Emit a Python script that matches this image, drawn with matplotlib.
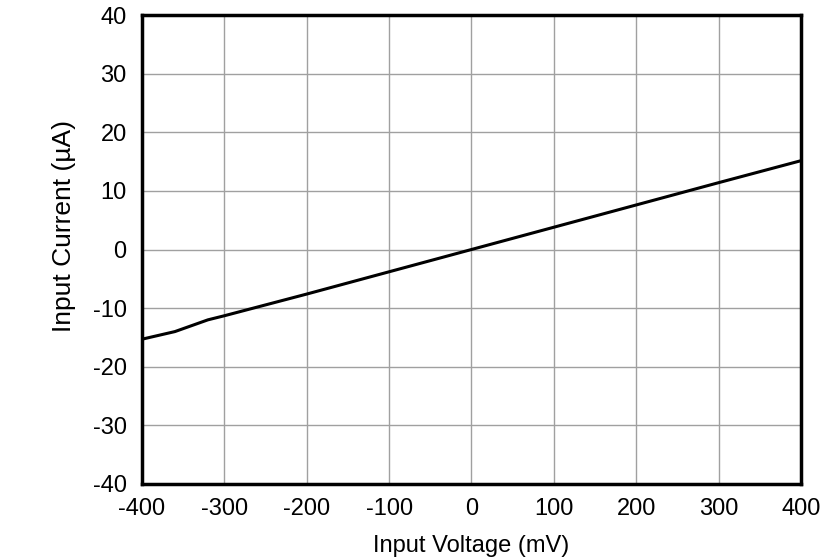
import matplotlib

matplotlib.use('Agg')
import matplotlib.pyplot as plt

plt.rcParams['font.family'] = ['Liberation Sans', 'DejaVu Sans']
plt.rcParams['font.size'] = 17
plt.rcParams['axes.unicode_minus'] = False

# input voltage (mV) vs input current (uA)
voltage = [-400, -360, -320, -300, -200, -100, 0, 100, 200, 300, 400]
current = [-15.3, -14.0, -12.0, -11.3, -7.6, -3.8, 0.0, 3.8, 7.6, 11.4, 15.15]

x_ticks = [-400, -300, -200, -100, 0, 100, 200, 300, 400]
y_ticks = [-40, -30, -20, -10, 0, 10, 20, 30, 40]

fig = plt.figure(figsize=(8.39, 5.59), dpi=100)
ax = fig.add_axes([142 / 839, 1 - 484 / 559, (801 - 142) / 839, (484 - 15) / 559])

ax.plot(voltage, current, color='black', linewidth=2.2)

ax.set_xlim(-400, 400)
ax.set_ylim(-40, 40)
ax.set_xticks(x_ticks)
ax.set_yticks(y_ticks)
ax.grid(True, color='#a0a0a0', linewidth=1)
ax.tick_params(length=0, labelsize=17)
ax.tick_params(axis='x', pad=10)
ax.tick_params(axis='y', pad=11)
for s in ax.spines.values():
    s.set_linewidth(2.5)

ax.set_xlabel('Input Voltage (mV)', fontsize=17, labelpad=11)
ax.set_ylabel('Input Current (µA)', fontsize=19)
ax.yaxis.set_label_coords(-0.1, 0.55)

fig.savefig('out.png', dpi=100)
